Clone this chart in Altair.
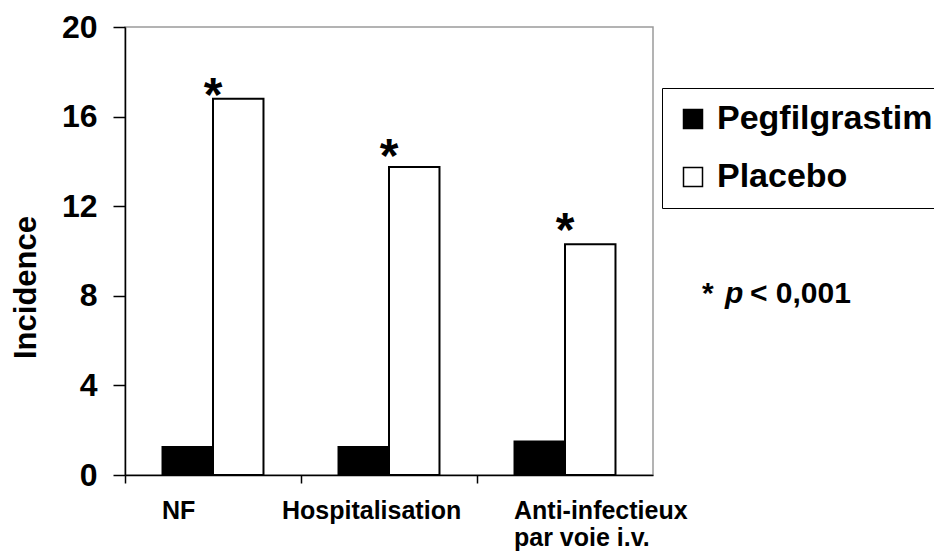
import altair as alt
import pandas as pd

# ---- data ----
categories = ["NF", "Hospitalisation", "Anti-infectieux|par voie i.v."]
series = ["Pegfilgrastim", "Placebo"]
pegfilgrastim = [1.25, 1.25, 1.5]
placebo = [16.8, 13.75, 10.3]
star_level = [17.4, 14.7, 11.4]   # height (in incidence units) of the significance stars
star_text = ["*", "*", "*"]
y_ticks = [0, 4, 8, 12, 16, 20]
note_parts = ["*", "p", "< 0,001"]

FONT = "Liberation Sans"

rows = []
for c, a, b in zip(categories, pegfilgrastim, placebo):
    rows.append({"category": c, "series": series[0], "value": a})
    rows.append({"category": c, "series": series[1], "value": b})
df = pd.DataFrame(rows)
df_star = pd.DataFrame({"category": categories, "level": star_level, "t": star_text})

x_enc = alt.X(
    "category:N",
    sort=categories,
    scale=alt.Scale(paddingInner=0, paddingOuter=0),
    axis=alt.Axis(
        title=None,
        bandPosition=0,
        tickSize=8,
        labelAngle=0,
        labelAlign="left",
        labelBaseline="top",
        labelPadding=15,
        labelFont=FONT,
        labelFontSize=25,
        labelFontWeight="bold",
        labelLineHeight=27,
        labelLimit=400,
        labelOverlap=False,
        labelFlush=False,
        labelExpr="split(datum.label, '|')",
        labelOffset={"condition": {"test": "datum.value == 'Hospitalisation'", "value": -107}, "value": -51},
    ),
)

y_scale = alt.Scale(domain=[0, 20], nice=False, zero=True)

bars = alt.Chart(df).mark_bar(stroke="black", strokeWidth=2).encode(
    x=x_enc,
    xOffset=alt.XOffset("series:N", sort=series,
                        scale=alt.Scale(paddingInner=0, paddingOuter=0.743)),
    y=alt.Y(
        "value:Q",
        scale=y_scale,
        axis=alt.Axis(
            values=y_ticks,
            title="Incidence",
            titleFont=FONT,
            titleFontSize=31,
            titleFontWeight="bold",
            titleX=-99,
            titleY=260,
            titleAlign="center",
            titleBaseline="middle",
            tickSize=12,
            labelPadding=16,
            labelFont=FONT,
            labelFontSize=32,
            labelFontWeight="bold",
            grid=False,
        ),
    ),
    color=alt.Color(
        "series:N",
        sort=series,
        title=None,
        scale=alt.Scale(domain=series, range=["#000000", "#ffffff"]),
        legend=alt.Legend(
            orient="none",
            legendX=537,
            legendY=61,
            direction="vertical",
            strokeColor="black",
            fillColor="white",
            padding=14,
            rowPadding=24,
            labelFont=FONT,
            labelFontSize=34,
            labelFontWeight="bold",
            labelColor="black",
            labelLimit=400,
            labelOffset=7,
            symbolType="square",
            symbolSize=361,
            symbolStrokeColor="black",
            symbolStrokeWidth=1.5,
            symbolOpacity=1,
        ),
    ),
)

stars = alt.Chart(df_star).mark_text(
    font=FONT, fontSize=48, fontWeight="bold", align="center",
    baseline="alphabetic", dy=26, color="black"
).encode(
    x=x_enc,
    y=alt.Y("level:Q", scale=y_scale),
    text="t:N",
)

note_df = pd.DataFrame({"t": note_parts})
n1 = alt.Chart(note_df).transform_filter(alt.datum.t == note_parts[0]).mark_text(
    font=FONT, fontSize=30, fontWeight="bold", align="left", baseline="alphabetic", color="black"
).encode(x=alt.value(577), y=alt.value(276), text="t:N")
n2 = alt.Chart(note_df).transform_filter(alt.datum.t == note_parts[1]).mark_text(
    font=FONT, fontSize=30, fontWeight="bold", fontStyle="italic", align="left",
    baseline="alphabetic", color="black"
).encode(x=alt.value(600), y=alt.value(276), text="t:N")
n3 = alt.Chart(note_df).transform_filter(alt.datum.t == note_parts[2]).mark_text(
    font=FONT, fontSize=30, fontWeight="bold", align="left", baseline="alphabetic", color="black"
).encode(x=alt.value(625), y=alt.value(276), text="t:N")

chart = alt.layer(bars, stars, n1, n2, n3).properties(
    width=528,
    height=448,
    padding={"left": 117, "top": 19, "right": 281, "bottom": 77},
    autosize=alt.AutoSizeParams(type="none"),
    background="white",
).configure(font=FONT).configure_view(
    stroke="#9a9a9a", strokeWidth=1.5
).configure_axis(
    domainColor="black", domainWidth=1.5, tickColor="black", tickWidth=1.5,
    labelColor="black", titleColor="black",
)

chart.save("out.html", embed_options={"renderer": "svg", "actions": False})
